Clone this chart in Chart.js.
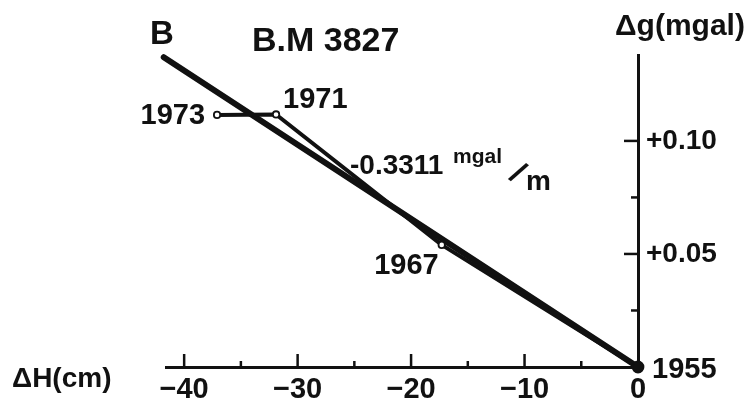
<!DOCTYPE html>
<html><head><meta charset="utf-8">
<script src="https://cdn.jsdelivr.net/npm/chart.js@4.4.1/dist/chart.umd.min.js"></script>
<style>html,body{margin:0;padding:0;background:#fff;}#wrap{width:756px;height:405px;}</style>
</head><body><div id="wrap"><canvas id="c" width="756" height="405"></canvas></div>
<script>
// ---- data ----
const years = ['1973', '1971', '1967', '1955'];
const dH = [-37.1, -31.9, -17.3, 0];        // ΔH (cm)
const dG = [0.1115, 0.1117, 0.054, 0];      // Δg (mgal)
const lineH = [-41.8, 0];                   // regression line B, ΔH (cm)
const lineG = [0.137, 0];                   // regression line B, Δg (mgal)
const xTicks = [-40, -35, -30, -25, -20, -15, -10, -5, 0];
const xTickLabels = ['−40', '', '−30', '', '−20', '', '−10', '', '0'];
const yTicks = [0.025, 0.05, 0.075, 0.10];
const yTickLabels = ['', '+0.05', '', '+0.10'];

const INK = '#111';
const FONT = '"Liberation Sans", Arial, sans-serif';

// label offsets (pixels) relative to each point
const yearOffsets = [
  {dx: -12, dy: 1, align: 'right'},
  {dx: 7, dy: -14, align: 'left'},
  {dx: -3, dy: 21, align: 'right'},
  {dx: 14, dy: 3, align: 'left'}
];

const tickMarks = {
  id: 'tickMarks',
  afterDraw(chart) {
    const c = chart.ctx, xs = chart.scales.x, ys = chart.scales.y;
    const y0 = ys.getPixelForValue(0), x0 = xs.getPixelForValue(0);
    c.save();
    c.strokeStyle = INK; c.lineWidth = 2.5; c.lineCap = 'butt';
    xTicks.forEach((v, i) => {
      if (v === 0) return;
      const px = xs.getPixelForValue(v);
      const len = xTickLabels[i] ? 13 : 6;
      c.beginPath(); c.moveTo(px, y0); c.lineTo(px, y0 - len); c.stroke();
    });
    yTicks.forEach((v, i) => {
      const py = ys.getPixelForValue(v);
      const len = yTickLabels[i] ? 14 : 7;
      c.beginPath(); c.moveTo(x0, py); c.lineTo(x0 - len, py); c.stroke();
    });
    c.restore();
  }
};

const annotations = {
  id: 'annotations',
  afterDraw(chart) {
    const c = chart.ctx, xs = chart.scales.x, ys = chart.scales.y;
    c.save();
    c.fillStyle = INK;
    c.textBaseline = 'middle';
    // year labels near points
    c.font = 'bold 29px ' + FONT;
    years.forEach((yr, i) => {
      const px = xs.getPixelForValue(dH[i]), py = ys.getPixelForValue(dG[i]);
      const o = yearOffsets[i];
      c.textAlign = o.align;
      c.fillText(yr, px + o.dx, py + o.dy);
    });
    c.textAlign = 'left';
    c.font = 'bold 33px ' + FONT;
    c.fillText('B', 150, 35);
    c.font = 'bold 34px ' + FONT;
    c.fillText('B.M 3827', 252, 42);
    c.font = 'bold 30px ' + FONT;
    c.fillText('Δg(mgal)', 615, 27);
    c.font = 'bold 28px ' + FONT;
    c.fillText('ΔH(cm)', 12, 379);
    // slope label
    c.font = 'bold 28px ' + FONT;
    c.fillText('-0.3311', 350, 166);
    c.textBaseline = 'alphabetic';
    c.font = 'bold 21px ' + FONT;
    c.fillText('mgal', 453, 163);
    c.save();
    c.translate(517, 174);
    c.rotate(0.66);
    c.textAlign = 'center';
    c.textBaseline = 'middle';
    c.font = 'bold 32px ' + FONT;
    c.fillText('/', 0, 0);
    c.restore();
    c.font = 'bold 28px ' + FONT;
    c.fillText('m', 526, 190);
    c.restore();
  }
};

new Chart(document.getElementById('c'), {
  type: 'scatter',
  data: {
    datasets: [
      {
        data: dH.map((x, i) => ({x, y: dG[i]})),
        showLine: true,
        borderColor: INK,
        borderWidth: 4,
        borderJoinStyle: 'round',
        pointRadius: [3.2, 3.2, 3.2, 5.5],
        pointBackgroundColor: ['#fff', '#fff', '#fff', INK],
        pointBorderColor: INK,
        pointBorderWidth: 1.8,
        clip: false
      },
      {
        data: lineH.map((x, i) => ({x, y: lineG[i]})),
        showLine: true,
        borderColor: INK,
        borderWidth: 6,
        borderCapStyle: 'round',
        pointRadius: 0,
        clip: false
      }
    ]
  },
  options: {
    responsive: false,
    animation: false,
    devicePixelRatio: 1,
    events: [],
    layout: {padding: {left: 166, top: 55, right: 0, bottom: 0}},
    plugins: {legend: {display: false}, tooltip: {enabled: false}},
    scales: {
      x: {
        type: 'linear', position: 'bottom', min: -41.6, max: 0,
        afterBuildTicks: s => { s.ticks = xTicks.map(v => ({value: v})); },
        afterFit: s => { s.height = 38; },
        grid: {display: false, drawTicks: false},
        border: {display: true, color: INK, width: 3},
        ticks: {
          autoSkip: false, maxRotation: 0, minRotation: 0, padding: 6, color: INK,
          font: {family: FONT, size: 29, weight: 'bold'},
          callback: (v, i) => xTickLabels[i]
        }
      },
      y: {
        type: 'linear', position: 'right', min: 0, max: 0.138,
        afterBuildTicks: s => { s.ticks = yTicks.map(v => ({value: v})); },
        afterFit: s => { s.width = 118; },
        grid: {display: false, drawTicks: false},
        border: {display: true, color: INK, width: 3},
        ticks: {
          autoSkip: false, padding: 8, color: INK,
          font: {family: FONT, size: 28, weight: 'bold'},
          callback: (v, i) => yTickLabels[i]
        }
      }
    }
  },
  plugins: [tickMarks, annotations]
});
</script>
</body></html>
